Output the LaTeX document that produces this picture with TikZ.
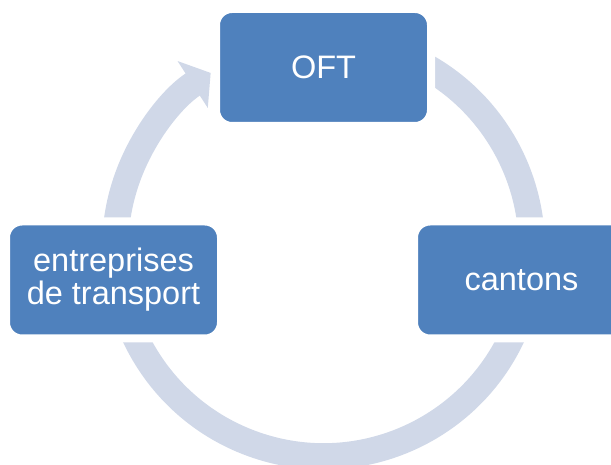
\documentclass[tikz,border=0pt]{standalone}
\usepackage{fontspec}
\setmainfont{Liberation Sans}
\usepackage{xcolor}
\usetikzlibrary{arrows.meta}
\definecolor{boxblue}{RGB}{79,129,189}
\definecolor{ringgray}{RGB}{208,216,232}

\begin{document}
\begin{tikzpicture}[x=1pt, y=1pt,
        actor/.style={rectangle, rounded corners=16pt, fill=boxblue, draw=white, line width=8pt, minimum width=215pt, minimum height=117pt, text=white, align=center, font=\fontsize{32.5}{33}\selectfont},
        ring/.style={ringgray, line width=26.3pt, -{Triangle[length=21.4pt, width=54.7pt]}}]
        	\useasboundingbox (0,0) rectangle (611,464);
        	\coordinate (centre) at (323.5,216);
        	\draw [ring] ([shift={(70:208.3)}]centre) arc [start angle=70, end angle=-237.2, radius=208.3];
        	\node [actor] (oft) at (323.5,396.5) {OFT};
        	\node [actor] (cantons) at (521.5,184) {cantons};
        	\node [actor] (entreprises) at (113.5,184) {entreprises\\de transport};
        \end{tikzpicture}
\end{document}
